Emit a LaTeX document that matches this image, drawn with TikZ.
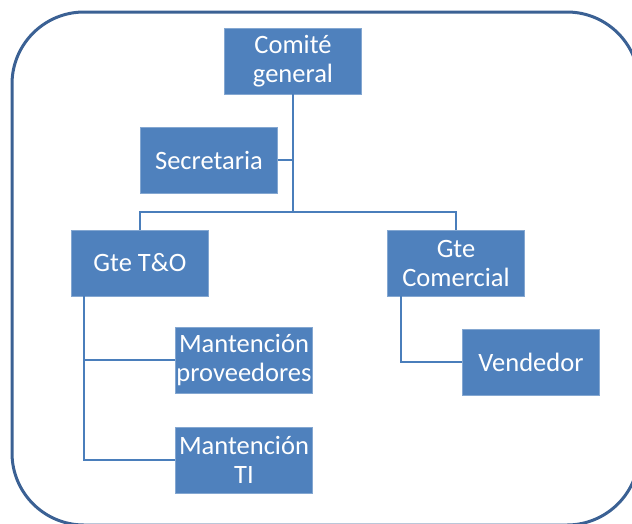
\documentclass[tikz,border=0pt]{standalone}
\usepackage{fontspec}
\setmainfont{Carlito}
\usepackage{tikz}

\definecolor{boxblue}{HTML}{4F81BD}
\definecolor{lineblue}{HTML}{4A7EBB}
\definecolor{frameblue}{HTML}{3B6194}

\begin{document}
\begin{tikzpicture}[x=1pt, y=1pt,
  main node/.style={fill=boxblue, draw=boxblue!70!white, line width=0.6pt,
    text=white, align=center, inner sep=0pt,
    minimum width=137pt, minimum height=66pt,
    font=\fontsize{26.5}{29}\selectfont},
  link/.style={draw=lineblue, line width=2.8pt}]
\useasboundingbox (0,0) rectangle (632,-523);
\draw[frameblue, line width=3pt, rounded corners=72pt] (12,-12) rectangle (639,-525);

\node[main node] (comite)     at (293,-61)  {Comité\\general};
\node[main node] (secretaria) at (209,-160) {Secretaria};
\node[main node] (gteto)      at (140,-263) {Gte T\&O};
\node[main node] (gtecom)     at (456,-263) {Gte\\Comercial};
\node[main node] (mprov)      at (244,-360) {Mantención\\proveedores};
\node[main node] (mti)        at (244,-460) {Mantención\\TI};
\node[main node] (vendedor)   at (531,-362) {Vendedor};

\coordinate (split) at (293,-212);

\path[link]
(comite.south)           -- (split)
(secretaria.east)        -- (secretaria.east -| split)
(gteto.north)            |- (split) -| (gtecom.north)
([xshift=-56pt]gteto.south)  |- (mprov.west)
([xshift=-56pt]gteto.south)  |- (mti.west)
([xshift=-55pt]gtecom.south) |- (vendedor.west)
;
\end{tikzpicture}
\end{document}
